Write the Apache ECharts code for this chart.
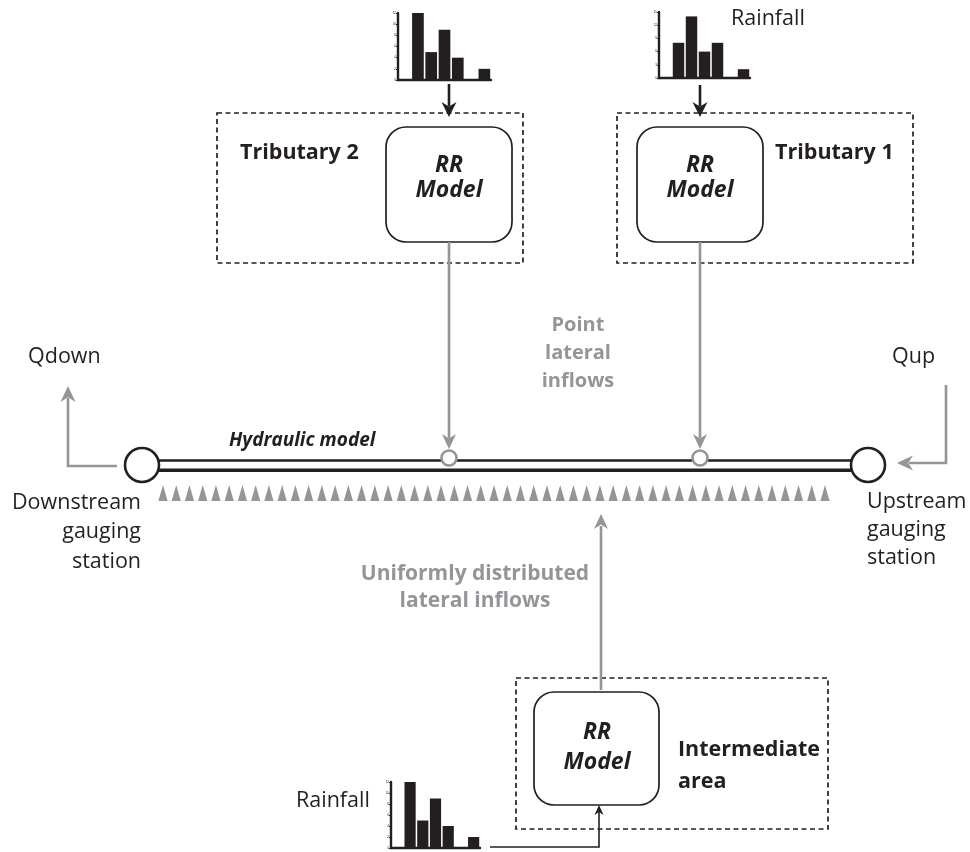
<!DOCTYPE html>
<html>
<head>
<meta charset="utf-8">
<script src="https://cdn.jsdelivr.net/npm/echarts@6/dist/echarts.min.js"></script>
<style>html,body{margin:0;padding:0;background:#fff}#main{width:970px;height:852px}</style>
</head>
<body>
<div id="main"></div>
<script>
// ---- data ----
const rainSteps = ['1','2','3','4','5','6','7'];
const rainTrib2 = [0, 12, 5, 9, 4, 0, 2];
const rainTrib1 = [0, 8, 14, 6, 8, 0, 2];
const rainInter = [0, 12, 5, 9, 4, 0, 2];
const yMaxTrib2 = 12, yStepTrib2 = 2;
const yMaxTrib1 = 15, yStepTrib1 = 3;
const yMaxInter = 12, yStepInter = 2;

const labels = {
  rainfall: 'Rainfall',
  trib1: 'Tributary 1',
  trib2: 'Tributary 2',
  rr: 'RR\nModel',
  point: 'Point\nlateral\ninflows',
  qdown: 'Qdown',
  qup: 'Qup',
  hyd: 'Hydraulic model',
  down: 'Downstream\ngauging\nstation',
  up: 'Upstream\ngauging\nstation',
  uni: 'Uniformly distributed\nlateral inflows',
  inter: 'Intermediate\narea'
};

// ---- styling ----
const BLACK = '#231f20';
const GRAY = '#939598';
const FONT = '"Open Sans", "Noto Sans", sans-serif';

const chart = echarts.init(document.getElementById('main'), null, {renderer: 'canvas'});

function hyetoAxes(gi, max, step) {
  return {
    x: {
      type: 'category', gridIndex: gi, data: rainSteps,
      axisLine: {lineStyle: {color: BLACK, width: 2.4}},
      axisTick: {show: false}, axisLabel: {show: false}
    },
    y: {
      type: 'value', gridIndex: gi, min: 0, max: max, interval: step,
      axisLine: {show: true, lineStyle: {color: BLACK, width: 2.4}},
      axisTick: {show: true, length: 2, lineStyle: {color: BLACK, width: 1}},
      axisLabel: {show: true, fontSize: 3, margin: 2, color: BLACK},
      splitLine: {show: false}
    }
  };
}
const a0 = hyetoAxes(0, yMaxTrib2, yStepTrib2);
const a1 = hyetoAxes(1, yMaxTrib1, yStepTrib1);
const a2 = hyetoAxes(2, yMaxInter, yStepInter);

function barSeries(gi, data) {
  return {
    type: 'bar', xAxisIndex: gi, yAxisIndex: gi, data: data,
    barCategoryGap: '12%', itemStyle: {color: BLACK}, silent: true
  };
}

// ---- graphic helpers ----
const G = [];
function line(x1, y1, x2, y2, color, w, z) {
  G.push({type: 'line', shape: {x1, y1, x2, y2}, style: {stroke: color, lineWidth: w}, z: z || 10});
}
function poly(points, color, w, z) {
  G.push({type: 'polyline', shape: {points}, style: {stroke: color, lineWidth: w, fill: null}, z: z || 10});
}
function head(tx, ty, dir, len, hw, color) {
  let pts;
  if (dir === 'down') pts = [[tx, ty], [tx - hw, ty - len], [tx, ty - len * 0.7], [tx + hw, ty - len]];
  else if (dir === 'up') pts = [[tx, ty], [tx - hw, ty + len], [tx, ty + len * 0.7], [tx + hw, ty + len]];
  else pts = [[tx, ty], [tx + len, ty - hw], [tx + len * 0.7, ty], [tx + len, ty + hw]];
  G.push({type: 'polygon', shape: {points: pts}, style: {fill: color}, z: 12});
}
function text(str, x, y, opt) {
  G.push({
    type: 'text', z: 20,
    style: Object.assign({
      text: str, x, y, fill: BLACK, fontFamily: FONT, fontSize: 21.5,
      align: 'left', verticalAlign: 'middle'
    }, opt || {})
  });
}
function dashedBox(x, y, w, h) {
  G.push({type: 'rect', shape: {x, y, width: w, height: h},
    style: {fill: null, stroke: BLACK, lineWidth: 1.7, lineDash: [5, 3.5]}, z: 5});
}
function rrBox(x, y, w, h) {
  G.push({type: 'rect', shape: {x, y, width: w, height: h, r: 20},
    style: {fill: '#fff', stroke: BLACK, lineWidth: 1.7}, z: 8});
}

// dashed catchment boxes
dashedBox(217, 113, 306, 150);
dashedBox(617, 113, 296, 150);
dashedBox(516, 678, 312, 151);

// rainfall -> RR arrows (black)
line(449, 84, 449, 106, BLACK, 2.6); head(449, 117, 'down', 15, 7.5, BLACK);
line(700, 85, 700, 106, BLACK, 2.6); head(700, 117, 'down', 15, 7.5, BLACK);
// bottom rainfall arrow
poly([[490, 847], [599, 847], [599, 812]], BLACK, 1.6);
head(599, 805, 'up', 10, 4.5, BLACK);

// RR boxes
rrBox(386, 127, 126, 115);
rrBox(637, 127, 126, 115);
rrBox(534, 692, 125, 113);

// gray point inflow arrows
line(449, 242, 449, 438, GRAY, 2.6); head(449, 449, 'down', 15, 7, GRAY);
line(700, 242, 700, 438, GRAY, 2.6); head(700, 449, 'down', 15, 7, GRAY);
// uniform inflow arrow
line(601, 690, 601, 526, GRAY, 2.6); head(601, 514, 'up', 15, 7, GRAY);
// Qdown / Qup
poly([[117, 466], [68, 466], [68, 398]], GRAY, 2.6);
head(68, 386, 'up', 16, 7.5, GRAY);
poly([[946, 385], [946, 463], [909, 463]], GRAY, 2.6);
head(897, 463, 'left', 16, 7.5, GRAY);

// river reach (double line)
line(158, 460.5, 852, 460.5, BLACK, 2.6, 6);
line(158, 470.2, 852, 470.2, BLACK, 3.4, 6);
// gauging stations
G.push({type: 'circle', shape: {cx: 142, cy: 465, r: 17}, style: {fill: '#fff', stroke: BLACK, lineWidth: 2.6}, z: 9});
G.push({type: 'circle', shape: {cx: 868, cy: 465, r: 17}, style: {fill: '#fff', stroke: BLACK, lineWidth: 2.6}, z: 9});
// point inflow nodes
G.push({type: 'circle', shape: {cx: 449, cy: 458, r: 7.5}, style: {fill: '#fff', stroke: GRAY, lineWidth: 2.6}, z: 9});
G.push({type: 'circle', shape: {cx: 700, cy: 458, r: 7.5}, style: {fill: '#fff', stroke: GRAY, lineWidth: 2.6}, z: 9});

// distributed inflow triangles
const triStart = 163, triEnd = 825, triCount = 51;
for (let i = 0; i < triCount; i++) {
  const cx = triStart + (triEnd - triStart) * i / (triCount - 1);
  G.push({type: 'polygon', shape: {points: [[cx, 485], [cx - 4.6, 501], [cx + 4.6, 501]]}, style: {fill: GRAY}, z: 5});
}

// texts
text(labels.rainfall, 731, 19);
text(labels.rainfall, 296, 801);
text(labels.trib2, 240, 153, {fontWeight: 'bold'});
text(labels.trib1, 775, 153, {fontWeight: 'bold'});
const rrFont = {fontWeight: 'bold', fontStyle: 'italic', fontSize: 23, align: 'center', lineHeight: 25};
text(labels.rr, 449, 178, rrFont);
text(labels.rr, 700, 178, rrFont);
text(labels.rr, 597, 747, Object.assign({}, rrFont, {lineHeight: 30}));
text(labels.point, 578, 353, {fontWeight: 'bold', fill: GRAY, fontSize: 20, align: 'center', lineHeight: 28});
text(labels.qdown, 28, 357);
text(labels.qup, 892, 357);
text(labels.hyd, 229, 441, {fontWeight: 'bold', fontStyle: 'italic', fontSize: 19});
text(labels.down, 141, 532, {align: 'right', lineHeight: 29.5});
text(labels.up, 867, 530, {lineHeight: 28});
text(labels.uni, 475, 588, {fontWeight: 'bold', fill: GRAY, fontSize: 21, align: 'center', lineHeight: 27});
text(labels.inter, 678, 766, {fontWeight: 'bold', lineHeight: 32});

chart.setOption({
  animation: false,
  backgroundColor: '#fff',
  grid: [
    {left: 398, top: 13, width: 93, height: 67},
    {left: 659, top: 12, width: 91, height: 66},
    {left: 391, top: 782, width: 89, height: 66}
  ],
  xAxis: [a0.x, a1.x, a2.x],
  yAxis: [a0.y, a1.y, a2.y],
  series: [barSeries(0, rainTrib2), barSeries(1, rainTrib1), barSeries(2, rainInter)],
  graphic: G
});
</script>
</body>
</html>
